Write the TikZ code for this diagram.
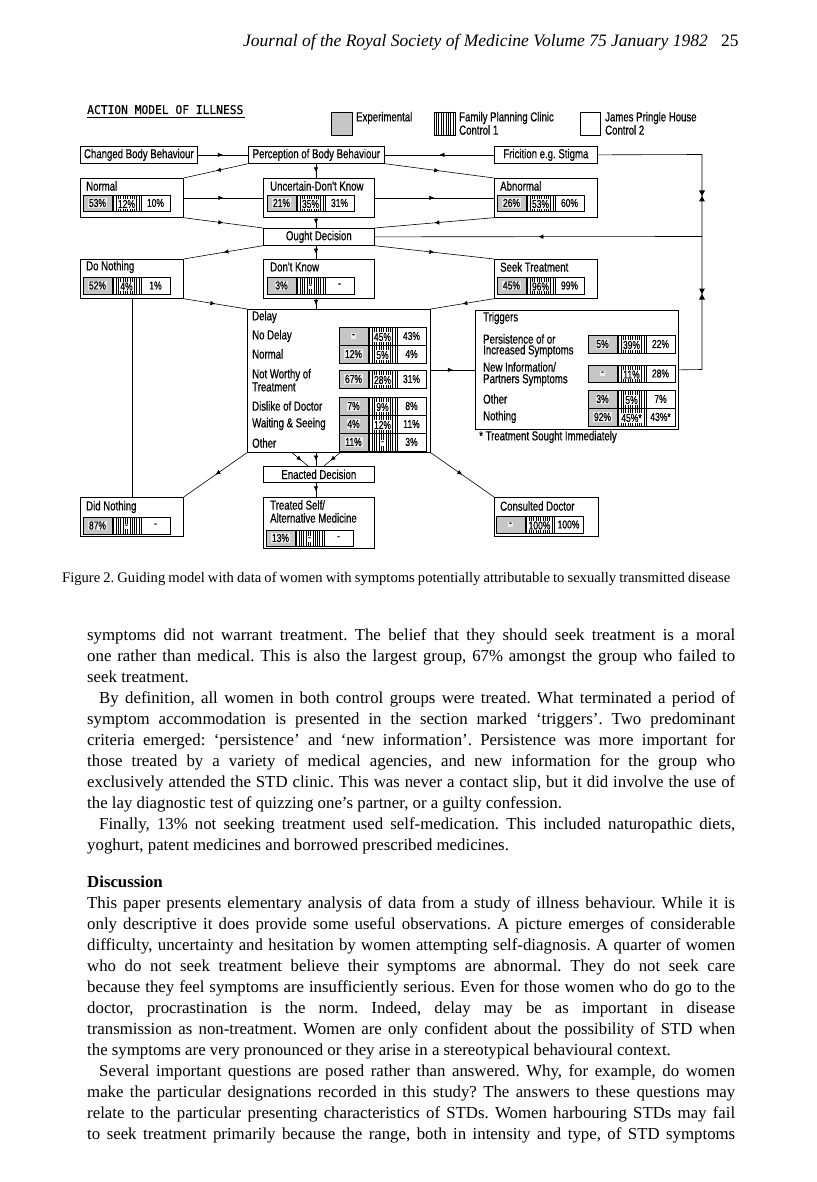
\documentclass[tikz,border=0pt]{standalone}
\usepackage{fontspec}
\setmainfont{Liberation Serif}
\newfontfamily\df[FakeStretch=0.74,FakeBold=0.5]{Liberation Sans}
\newfontfamily\tfam[FakeStretch=0.94,FakeBold=0.6]{DejaVu Sans Mono}
\usetikzlibrary{arrows.meta,decorations.markings,calc}
\frenchspacing
\tikzset{
 bx/.style={draw, line width=0.7pt, inner sep=0pt, anchor=north west, font=\df\fontsize{13}{14}\selectfont},
 lbl/.style={font=\df\fontsize{13}{14}\selectfont, inner sep=0pt, anchor=west},
 conn/.style={line width=0.6pt},
 midarr/.style={decoration={markings, mark=at position #1 with {\arrow{Latex[length=5pt,width=4.5pt]}}}, postaction={decorate}},
 midarr/.default=0.5,
 stip/.style={fill=gray!45},
 hatchln/.style={line width=0.75pt},
 cellb/.style={line width=0.7pt},
 ptxt/.style={font=\df\fontsize{11.5}{12}\selectfont, inner sep=0.8pt},
 body/.style={font=\fontsize{16.8}{21}\selectfont, inner sep=0pt, anchor=base west},
 captxt/.style={font=\fontsize{14.6}{17}\selectfont, inner sep=0pt, anchor=base west},
}
\newcommand\mybox[5]{\node[bx, minimum width=#4pt, minimum height=#5pt] (#1) at (#2,#3) {};}
\newcommand\pbar[6]{%
 \fill[stip] (#1,#2) rectangle ++(29,#3);
 \foreach \k in {1,...,12}{\draw[hatchln] ({#1+28.5+\k*2.3},#2) -- ++(0,#3);}
 \draw[cellb] (#1,#2) rectangle ++(87,#3);
 \draw[cellb] (#1+29,#2) -- ++(0,#3);
 \draw[cellb] (#1+58,#2) -- ++(0,#3);
 \node[ptxt, fill=gray!15] at (#1+14.5,#2+#3/2) {#4};
 \node[ptxt, fill=white] at (#1+43.5,#2+#3/2+1) {#5};
 \node[ptxt] at (#1+72.5,#2+#3/2) {#6};
}
\begin{document}
\begin{tikzpicture}[x=1pt,y=-1pt]
\useasboundingbox (0,0) rectangle (816,1182);
% header
\node[anchor=base east, inner sep=0pt, font=\itshape\fontsize{17.5}{19}\selectfont] (hdr) at (708,47) {Journal of the Royal Society of Medicine Volume 75 January 1982};
\node[anchor=base west, inner sep=0pt, font=\fontsize{17.5}{19}\selectfont] (pg) at (721,47) {25};
% title and legend
\node[anchor=base west, inner sep=0pt, font=\tfam\fontsize{12}{13}\selectfont] (title) at (87,114) {ACTION MODEL OF ILLNESS};
\draw[line width=0.8pt] (title.south west) ++(0,3) -- ++(158,0);
\node[draw, stip, line width=0.6pt, minimum width=21pt, minimum height=23pt, inner sep=0pt, anchor=north west] (lg1) at (331,112) {};
\node[lbl] (lg1t) at (356,118) {Experimental};
\node[draw, line width=0.6pt, minimum width=21pt, minimum height=23pt, inner sep=0pt, anchor=north west] (lg2) at (434,112) {};
\foreach \k in {1,...,8}{\draw[hatchln] ({434+\k*2.4},112) -- ++(0,23);}
\node[lbl] (lg2t) at (459,118) {Family Planning Clinic};
\node[lbl] (lg2u) at (459,130) {Control 1};
\node[draw, line width=0.6pt, minimum width=20pt, minimum height=23pt, inner sep=0pt, anchor=north west] (lg3) at (580,112) {};
\node[lbl] (lg3t) at (605,118) {James Pringle House};
\node[lbl] (lg3u) at (605,130) {Control 2};
% boxes
\node[bx, minimum width=117pt, minimum height=17pt] (cbb) at (80,146) {Changed Body Behaviour};
\node[bx, minimum width=136pt, minimum height=17pt] (pbb) at (248,146) {Perception of Body Behaviour};
\node[bx, minimum width=103pt, minimum height=17pt] (fric) at (494,146) {Fricition e.g. Stigma};
\mybox{norm}{80}{178}{103}{39}
\mybox{unc}{263}{178}{111}{39}
\mybox{abn}{494}{178}{103}{39}
\node[bx, minimum width=111pt, minimum height=17pt] (ought) at (263,228) {Ought Decision};
\mybox{dono}{80}{259}{103}{39}
\mybox{dk}{263}{259}{111}{39}
\mybox{seek}{494}{259}{103}{39}
\mybox{delay}{247}{309}{183}{143}
\mybox{trig}{475}{310}{203}{119}
\node[bx, minimum width=111pt, minimum height=16pt] (enact) at (263,466) {Enacted Decision};
\mybox{didn}{80}{497}{103}{39}
\mybox{treat}{263}{497}{111}{51}
\mybox{cons}{494}{497}{104}{39}
% labels
\node[lbl] (normL) at (86,186) {Normal};
\node[lbl] (uncL) at (270,186) {Uncertain-Don't Know};
\node[lbl] (abnL) at (500,186) {Abnormal};
\node[lbl] (donoL) at (86,267) {Do Nothing};
\node[lbl] (dkL) at (270,267) {Don't Know};
\node[lbl] (seekL) at (500,267) {Seek Treatment};
\node[lbl] (didnL) at (86,507) {Did Nothing};
\node[lbl] (treatL1) at (270,505) {Treated Self/};
\node[lbl] (treatL2) at (270,518) {Alternative Medicine};
\node[lbl] (consL) at (500,506) {Consulted Doctor};
\node[lbl] (dL0) at (252,317) {Delay};
\node[lbl] (dL1) at (252,336) {No Delay};
\node[lbl] (dL2) at (252,354) {Normal};
\node[lbl] (dL3) at (252,375) {Not Worthy of};
\node[lbl] (dL3b) at (252,387) {Treatment};
\node[lbl] (dL4) at (252,406) {Dislike of Doctor};
\node[lbl] (dL5) at (252,424) {Waiting \& Seeing};
\node[lbl] (dL6) at (252,443) {Other};
\node[lbl] (tL0) at (483,318) {Triggers};
\node[lbl] (tL1) at (483,339) {Persistence of or};
\node[lbl] (tL1b) at (483,351) {Increased Symptoms};
\node[lbl] (tL2) at (483,367) {New Information/};
\node[lbl] (tL2b) at (483,380) {Partners Symptoms};
\node[lbl] (tL3) at (483,399) {Other};
\node[lbl] (tL4) at (483,417) {Nothing};
\node[lbl] (fn) at (479,437) {* Treatment Sought Immediately};
% bars
\pbar{83}{195}{16}{53\%}{12\%}{10\%}
\pbar{267}{195}{16}{21\%}{35\%}{31\%}
\pbar{497}{195}{16}{26\%}{53\%}{60\%}
\pbar{83}{277}{17}{52\%}{4\%}{1\%}
\pbar{267}{277}{17}{3\%}{-}{-}
\pbar{497}{277}{17}{45\%}{96\%}{99\%}
\pbar{339}{327}{18}{-}{45\%}{43\%}
\pbar{339}{345}{18}{12\%}{5\%}{4\%}
\pbar{339}{370}{18}{67\%}{28\%}{31\%}
\pbar{339}{397}{18}{7\%}{9\%}{8\%}
\pbar{339}{415}{18}{4\%}{12\%}{11\%}
\pbar{339}{433}{18}{11\%}{-}{3\%}
\pbar{588}{335}{18}{5\%}{39\%}{22\%}
\pbar{588}{365}{17}{-}{11\%}{28\%}
\pbar{588}{390}{18}{3\%}{5\%}{7\%}
\pbar{588}{408}{18}{92\%}{45\%*}{43\%*}
\pbar{83}{517}{17}{87\%}{-}{-}
\pbar{266}{530}{16}{13\%}{-}{-}
\pbar{496}{516}{17}{-}{100\%}{100\%}
% connectors
\coordinate (col) at (316,0);
\draw[conn,midarr] (cbb.east) -- (pbb.west);
\draw[conn,midarr] (fric.west) -- (pbb.east);
\draw[conn,midarr] (pbb.south west) -- (norm.north east);
\draw[conn,midarr] (pbb.south east) -- (abn.north west);
\draw[conn,midarr=0.6] (pbb.south -| col) -- (unc.north -| col);
\draw[conn,midarr] (norm.east) -- (unc.west);
\draw[conn,midarr] (unc.east) -- (abn.west);
\draw[conn,midarr] (norm.south east) -- (ought.north west);
\draw[conn,midarr] (abn.south west) -- (ought.north east);
\draw[conn,midarr=0.6] (unc.south -| col) -- (ought.north -| col);
\draw[conn,midarr] (ought.south west) -- (dono.north east);
\draw[conn,midarr] (ought.south east) -- (seek.north west);
\draw[conn,midarr=0.6] (ought.south -| col) -- (dk.north -| col);
\draw[conn,midarr] (dono.south east) -- (delay.north west);
\draw[conn,midarr] (seek.south west) -- (delay.north east);
\draw[conn,midarr=0.6] (dk.south -| col) -- (delay.north -| col);
\draw[conn] (dono.south) -- (didn.north);
\draw[conn,midarr] (delay.east |- trig.west) -- (trig.west);
\draw[conn,midarr] (delay.south west) -- (didn.north east);
\draw[conn,midarr] (delay.south east) -- (cons.north west);
\draw[conn,midarr=0.6] ($(delay.south -| col)+(-24,0)$) -- ($(enact.north -| col)+(-8,0)$);
\draw[conn,midarr=0.6] (delay.south -| col) -- (enact.north -| col);
\draw[conn,midarr=0.6] ($(delay.south -| col)+(24,0)$) -- ($(enact.north -| col)+(8,0)$);
\draw[conn,midarr=0.6] (enact.south -| col) -- (treat.north -| col);
\coordinate (rt) at (702,154.5);
\coordinate (rm) at (702,236.5);
\coordinate (rb) at (702,369.5);
\draw[conn] (fric.east) -- (rt) -- (rb) -- (trig.east);
\draw[conn,midarr] (rm) -- (ought.east);
\foreach \yy in {196,294}{
 \fill (699,\yy-5.5) -- (705,\yy-5.5) -- (702,\yy) -- cycle;
 \fill (699,\yy+5.5) -- (705,\yy+5.5) -- (702,\yy) -- cycle;
}
% caption
\node[captxt] (capt) at (62,582) {\makebox[668pt][s]{Figure 2. Guiding model with data of women with symptoms potentially attributable to sexually transmitted disease}};
% body text
\node[body] (b1) at (87,640) {\makebox[648pt][s]{symptoms did not warrant treatment. The belief that they should seek treatment is a moral}};
\node[body] (b2) at (87,661) {\makebox[648pt][s]{one rather than medical. This is also the largest group, 67\% amongst the group who failed to}};
\node[body] (b3) at (87,682) {seek treatment.};
\node[body] (b4) at (99,703) {\makebox[636pt][s]{By definition, all women in both control groups were treated. What terminated a period of}};
\node[body] (b5) at (87,724) {\makebox[648pt][s]{symptom accommodation is presented in the section marked ‘triggers’. Two predominant}};
\node[body] (b6) at (87,745) {\makebox[648pt][s]{criteria emerged: ‘persistence’ and ‘new information’. Persistence was more important for}};
\node[body] (b7) at (87,766) {\makebox[648pt][s]{those treated by a variety of medical agencies, and new information for the group who}};
\node[body] (b8) at (87,787) {\makebox[648pt][s]{exclusively attended the STD clinic. This was never a contact slip, but it did involve the use of}};
\node[body] (b9) at (87,808) {the lay diagnostic test of quizzing one’s partner, or a guilty confession.};
\node[body] (b10) at (99,829) {\makebox[636pt][s]{Finally, 13\% not seeking treatment used self-medication. This included naturopathic diets,}};
\node[body] (b11) at (87,850) {yoghurt, patent medicines and borrowed prescribed medicines.};
\node[body, font=\bfseries\fontsize{16.8}{21}\selectfont] (disc) at (87,887) {Discussion};
\node[body] (c1) at (87,908) {\makebox[648pt][s]{This paper presents elementary analysis of data from a study of illness behaviour. While it is}};
\node[body] (c2) at (87,929) {\makebox[648pt][s]{only descriptive it does provide some useful observations. A picture emerges of considerable}};
\node[body] (c3) at (87,950) {\makebox[648pt][s]{difficulty, uncertainty and hesitation by women attempting self-diagnosis. A quarter of women}};
\node[body] (c4) at (87,971) {\makebox[648pt][s]{who do not seek treatment believe their symptoms are abnormal. They do not seek care}};
\node[body] (c5) at (87,992) {\makebox[648pt][s]{because they feel symptoms are insufficiently serious. Even for those women who do go to the}};
\node[body] (c6) at (87,1013) {\makebox[648pt][s]{doctor, procrastination is the norm. Indeed, delay may be as important in disease}};
\node[body] (c7) at (87,1034) {\makebox[648pt][s]{transmission as non-treatment. Women are only confident about the possibility of STD when}};
\node[body] (c8) at (87,1055) {the symptoms are very pronounced or they arise in a stereotypical behavioural context.};
\node[body] (c9) at (99,1076) {\makebox[636pt][s]{Several important questions are posed rather than answered. Why, for example, do women}};
\node[body] (c10) at (87,1097) {\makebox[648pt][s]{make the particular designations recorded in this study? The answers to these questions may}};
\node[body] (c11) at (87,1118) {\makebox[648pt][s]{relate to the particular presenting characteristics of STDs. Women harbouring STDs may fail}};
\node[body] (c12) at (87,1139) {\makebox[648pt][s]{to seek treatment primarily because the range, both in intensity and type, of STD symptoms}};
\end{tikzpicture}
\end{document}
